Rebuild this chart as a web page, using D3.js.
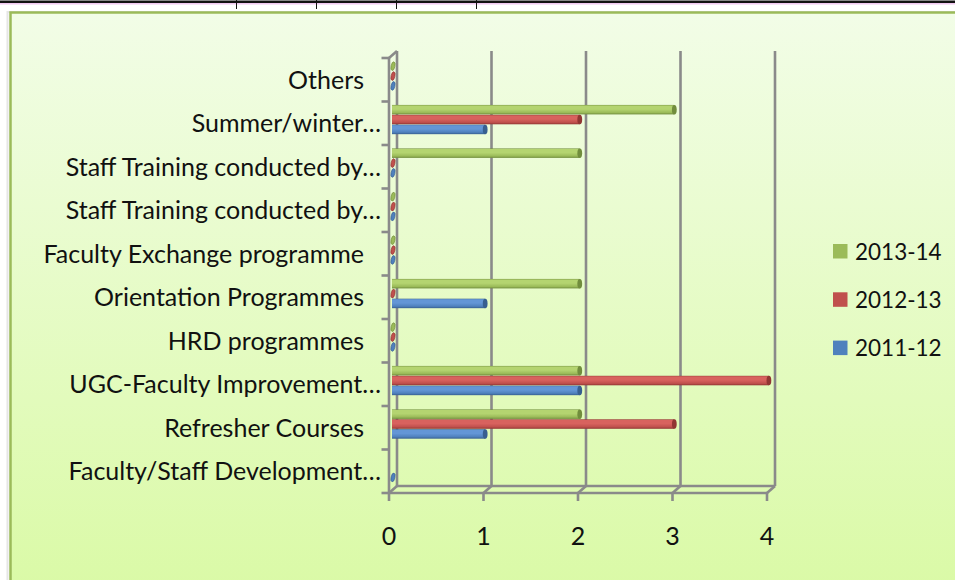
<!DOCTYPE html>
<html>
<head>
<meta charset="utf-8">
<script src="https://cdn.jsdelivr.net/npm/d3@7"></script>
<style>
  body { margin: 0; background: #fff; }
  svg { display: block; }
  text { font-family: Lato, "Open Sans", sans-serif; fill: #111; }
</style>
</head>
<body>
<svg id="chart" width="955" height="580"></svg>
<script>
// categories from bottom to top, like the sheet
var categories = [
    "Faculty/Staff Development\u2026",
    "Refresher Courses",
    "UGC-Faculty Improvement\u2026",
    "HRD programmes",
    "Orientation Programmes",
    "Faculty Exchange programme",
    "Staff Training conducted by\u2026",
    "Staff Training conducted by\u2026",
    "Summer/winter\u2026",
    "Others"
];
var seriesNames = ["2013-14", "2012-13", "2011-12"];
var values2013 = [null, 2, 2, 0, 2, 0, 0, 2, 3, 0];
var values2012 = [null, 3, 4, 0, 0, 0, 0, 0, 2, 0];
var values2011 = [0, 1, 2, 0, 1, 0, 0, 0, 1, 0];
var valueTicks = [0, 1, 2, 3, 4];

var series = [
    {name: seriesNames[0], values: values2013, base: "#9bbb59", light: "#b4d470", dark: "#718d3d"},
    {name: seriesNames[1], values: values2012, base: "#c0504d", light: "#d8625e", dark: "#913633"},
    {name: seriesNames[2], values: values2011, base: "#4f81bd", light: "#6396d6", dark: "#375f90"}
];

var svg = d3.select("#chart");
var defs = svg.append("defs");

// chart area background
var bg = defs.append("linearGradient").attr("id", "bgGrad")
    .attr("x1", 0).attr("y1", 0).attr("x2", 0).attr("y2", 1);
bg.append("stop").attr("offset", "0%").attr("stop-color", "#f2fde7");
bg.append("stop").attr("offset", "100%").attr("stop-color", "#dafaa6");

series.forEach(function(s, i) {
    var g = defs.append("linearGradient").attr("id", "barGrad" + i)
        .attr("x1", 0).attr("y1", 0).attr("x2", 0).attr("y2", 1);
    g.append("stop").attr("offset", "0%").attr("stop-color", s.dark);
    g.append("stop").attr("offset", "10%").attr("stop-color", s.light);
    g.append("stop").attr("offset", "45%").attr("stop-color", s.light);
    g.append("stop").attr("offset", "80%").attr("stop-color", s.base);
    g.append("stop").attr("offset", "100%").attr("stop-color", s.dark);
});

// table row lines above the chart
svg.append("rect").attr("x", 0).attr("y", 3).attr("width", 955).attr("height", 1.5)
    .attr("fill", "#f0c8f0");
svg.append("rect").attr("x", 0).attr("y", 0.5).attr("width", 955).attr("height", 2.5)
    .attr("fill", "#111");
[236, 316, 396, 476].forEach(function(x) {
    svg.append("line").attr("x1", x + 0.5).attr("x2", x + 0.5).attr("y1", 0).attr("y2", 9)
        .attr("stroke", "#111").attr("stroke-width", 1);
});

// chart frame
svg.append("rect").attr("x", 7.5).attr("y", 12).attr("width", 960).attr("height", 580)
    .attr("fill", "none").attr("stroke", "#e6e6e6").attr("stroke-width", 2);
svg.append("rect").attr("x", 10.5).attr("y", 12.5).attr("width", 960).attr("height", 580)
    .attr("fill", "url(#bgGrad)").attr("stroke", "#9bbb59").attr("stroke-width", 2.5);

// 3d geometry: front plane and depth offset
var depthX = 8, depthY = -7;
var xFront = d3.scaleLinear().domain([0, 4]).range([389, 767]);
var xBar = d3.scaleLinear().domain([0, 4]).range([393, 771.3]);
var yBand = d3.scaleBand().domain(d3.range(categories.length)).range([493, 58]);
var ySeries = d3.scaleBand().domain(seriesNames).range([0, yBand.bandwidth()]).paddingOuter(0.7);

var axisColor = "#8a8a8a";
var grid = svg.append("g").attr("stroke", axisColor).attr("stroke-width", 2.6).attr("fill", "none");

// back wall gridlines
valueTicks.forEach(function(v) {
    grid.append("line")
        .attr("x1", xFront(v) + depthX).attr("x2", xFront(v) + depthX)
        .attr("y1", 58 + depthY).attr("y2", 493 + depthY);
});
// floor
grid.append("line").attr("x1", xFront(0) + depthX).attr("x2", xFront(4) + depthX)
    .attr("y1", 493 + depthY).attr("y2", 493 + depthY);
grid.append("line").attr("x1", xFront(0)).attr("x2", xFront(4))
    .attr("y1", 493).attr("y2", 493);
valueTicks.forEach(function(v) {
    grid.append("line")
        .attr("x1", xFront(v)).attr("x2", xFront(v) + depthX)
        .attr("y1", 493).attr("y2", 493 + depthY);
    grid.append("line")
        .attr("x1", xFront(v)).attr("x2", xFront(v))
        .attr("y1", 493).attr("y2", 501);
});
// left wall
grid.append("line").attr("x1", xFront(0)).attr("x2", xFront(0)).attr("y1", 58).attr("y2", 493);
grid.append("line").attr("x1", xFront(0)).attr("x2", xFront(0) + depthX)
    .attr("y1", 58).attr("y2", 58 + depthY);
d3.range(categories.length + 1).forEach(function(k) {
    var y = 493 - k * yBand.step();
    grid.append("line").attr("x1", xFront(0) - 7.5).attr("x2", xFront(0))
        .attr("y1", y).attr("y2", y);
});

// bars, drawn top series first so lower bars sit in front
var bars = svg.append("g");
series.forEach(function(s, si) {
    s.values.forEach(function(v, ci) {
        if (v === null) return;
        var y0 = yBand(ci) + ySeries(s.name) + depthY / 2;
        var h = ySeries.bandwidth() - 0.4;
        var x0 = xBar(0);
        var x1 = xBar(v);
        var rx = 2.4;
        if (v > 0) {
            bars.append("rect")
                .attr("x", x0 - 1).attr("y", y0)
                .attr("width", x1 - x0 - rx + 1).attr("height", h)
                .attr("fill", "url(#barGrad" + si + ")");
            bars.append("ellipse")
                .attr("cx", x1 - rx).attr("cy", y0 + h / 2)
                .attr("rx", rx).attr("ry", h / 2)
                .attr("fill", s.dark);
        } else {
            bars.append("ellipse")
                .attr("cx", x0).attr("cy", y0 + h / 2)
                .attr("rx", 1.9).attr("ry", h / 2 - 0.3)
                .attr("transform", "rotate(12," + x0 + "," + (y0 + h / 2) + ")")
                .attr("fill", s.base).attr("stroke", s.dark).attr("stroke-width", 0.6);
        }
    });
});

// category labels
svg.append("g").selectAll("text")
    .data(categories)
    .enter()
    .append("text")
    .attr("x", function(d) {
        return d.slice(-1) === "\u2026" ? 381 : 364;
    })
    .attr("y", function(d, i) {
        return yBand(i) + yBand.bandwidth() / 2;
    })
    .attr("dy", "0.36em")
    .attr("text-anchor", "end")
    .style("font-size", "25px")
    .text(function(d) { return d; });

// value axis labels
svg.append("g").selectAll("text")
    .data(valueTicks)
    .enter()
    .append("text")
    .attr("x", function(d) { return xFront(d); })
    .attr("y", 536)
    .attr("dy", "0.36em")
    .attr("text-anchor", "middle")
    .style("font-size", "25px")
    .text(function(d) { return d; });

// legend
var legend = svg.append("g").selectAll("g")
    .data(series)
    .enter()
    .append("g")
    .attr("transform", function(d, i) {
        return "translate(833," + (244 + i * 48.3) + ")";
    });
legend.append("rect").attr("width", 14.5).attr("height", 14.5)
    .attr("fill", function(d) { return d.base; });
legend.append("text")
    .attr("x", 22).attr("y", 7.5).attr("dy", "0.36em")
    .style("font-size", "22.5px")
    .text(function(d) { return d.name; });
</script>
</body>
</html>
